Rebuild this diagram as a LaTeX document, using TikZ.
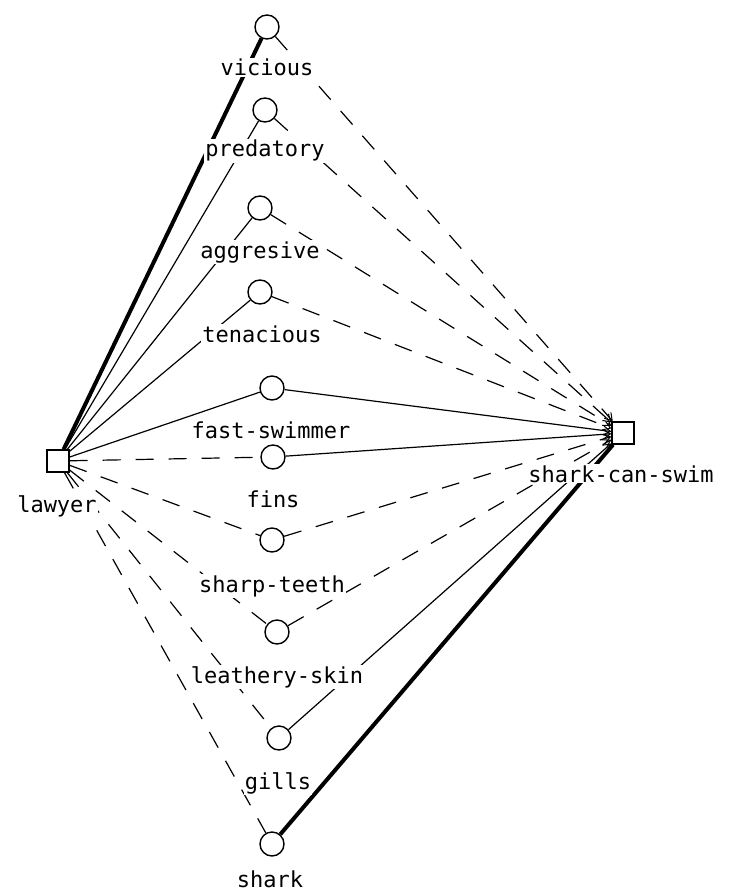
\documentclass[tikz,border=0pt]{standalone}
\usepackage{fontspec}
\setmonofont{DejaVu Sans Mono}
\usetikzlibrary{arrows.meta,backgrounds}
\begin{document}
\begin{tikzpicture}[x=1pt,y=-1pt,
  lbl/.style={anchor=base,fill=white,inner sep=1pt,font=\ttfamily\fontsize{22}{24}\selectfont},
  prop/.style={draw,circle,minimum size=24pt,inner sep=0pt,line width=1.4pt,fill=white},
  ent/.style={draw,rectangle,minimum size=22pt,inner sep=0pt,line width=1.4pt,fill=white},
  thin/.style={line width=1.2pt},
  thick/.style={line width=4pt},
  dsh/.style={line width=1.2pt,dash pattern=on 18pt off 15pt},
  arr/.style={-{Straight Barb[length=7pt,width=9pt,line width=1pt]}}
]
\useasboundingbox (0,0) rectangle (733,896);
% entities
\node[ent] (lawyer) at (58,461) {};
\node[ent] (scs) at (623,433) {};
% properties
\node[prop] (vicious) at (267,27) {};
\node[prop] (predatory) at (265,110) {};
\node[prop] (aggresive) at (260,208) {};
\node[prop] (tenacious) at (260,292) {};
\node[prop] (fast) at (272,388) {};
\node[prop] (fins) at (273,457) {};
\node[prop] (teeth) at (272,540) {};
\node[prop] (skin) at (277,632) {};
\node[prop] (gills) at (279,738) {};
\node[prop] (shark) at (272,844) {};
% labels
\node[lbl] (lvicious) at (267,76) {vicious};
\node[lbl] (lpredatory) at (265,157) {predatory};
\node[lbl] (laggresive) at (260,258) {aggresive};
\node[lbl] (ltenacious) at (262,342) {tenacious};
\node[lbl] (lfast) at (271,438) {fast-swimmer};
\node[lbl] (lfins) at (273,507) {fins};
\node[lbl] (lteeth) at (272,592) {sharp-teeth};
\node[lbl] (lskin) at (277,683) {leathery-skin};
\node[lbl] (lgills) at (278,789) {gills};
\node[lbl] (lshark) at (270,887) {shark};
\node[lbl] (llawyer) at (57,512) {lawyer};
\node[lbl] (lscs) at (621,482) {shark-can-swim};
\begin{scope}[on background layer]
% lawyer to properties
\draw[thick] (lawyer) -- (vicious);
\draw[thin] (lawyer) -- (predatory);
\draw[thin] (lawyer) -- (aggresive);
\draw[thin] (lawyer) -- (tenacious);
\draw[thin] (lawyer) -- (fast);
\draw[dsh] (lawyer) -- (fins);
\draw[dsh] (lawyer) -- (teeth);
\draw[dsh] (lawyer) -- (skin);
\draw[dsh] (lawyer) -- (gills);
\draw[dsh] (lawyer) -- (shark);
% properties to shark-can-swim
\draw[dsh,arr] (vicious) -- (scs);
\draw[dsh,arr] (predatory) -- (scs);
\draw[dsh,arr] (aggresive) -- (scs);
\draw[dsh,arr] (tenacious) -- (scs);
\draw[thin,arr] (fast) -- (scs);
\draw[thin,arr] (fins) -- (scs);
\draw[dsh,arr] (teeth) -- (scs);
\draw[dsh,arr] (skin) -- (scs);
\draw[thin,arr] (gills) -- (scs);
\draw[thick] (shark) -- (scs);
\end{scope}
\end{tikzpicture}
\end{document}
